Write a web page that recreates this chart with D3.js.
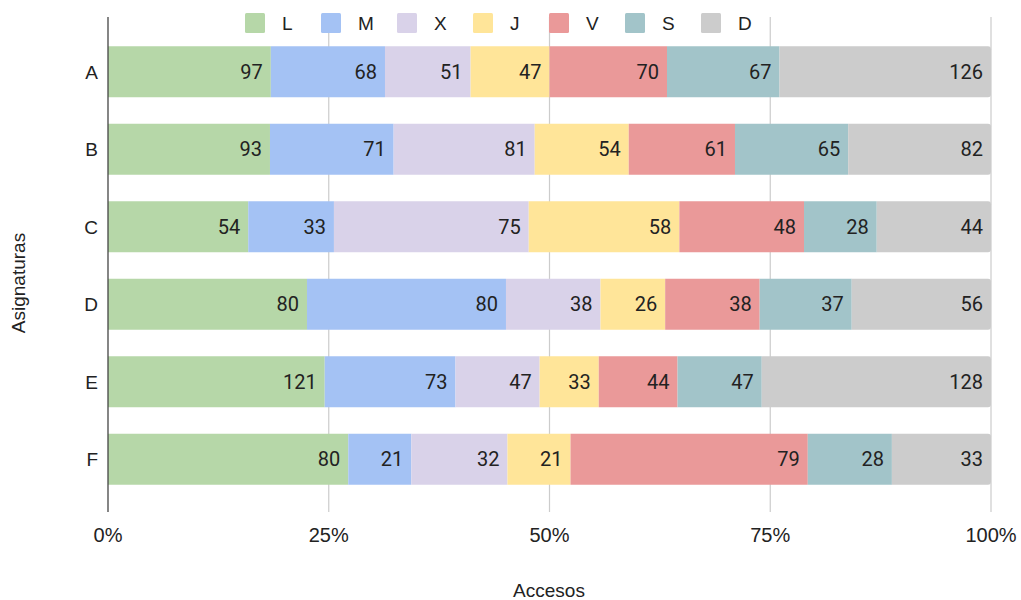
<!DOCTYPE html>
<html>
<head>
<meta charset="utf-8">
<script src="https://cdn.jsdelivr.net/npm/d3@7"></script>
<style>
  body { margin: 0; background: #fff; }
  svg text { font-family: "Liberation Sans", Arial, sans-serif; fill: #222; }
  svg text.val { font-family: Roboto, "Noto Sans", sans-serif; }
</style>
</head>
<body>
<div id="chart"></div>
<script>
// data
const categories = ["A", "B", "C", "D", "E", "F"];
const seriesNames = ["L", "M", "X", "J", "V", "S", "D"];
const colors = ["#b6d7a8", "#a4c2f4", "#d9d2e9", "#ffe599", "#ea9999", "#a2c4c9", "#cccccc"];
const values = {
  L: [97, 93, 54, 80, 121, 80],
  M: [68, 71, 33, 80, 73, 21],
  X: [51, 81, 75, 38, 47, 32],
  J: [47, 54, 58, 26, 33, 21],
  V: [70, 61, 48, 38, 44, 79],
  S: [67, 65, 28, 37, 47, 28],
  D: [126, 82, 44, 56, 128, 33]
};
const tickValues = [0, 0.25, 0.5, 0.75, 1];

const W = 1021, H = 600;
const plot = {left: 108, right: 991, top: 33, bottom: 498};

const svg = d3.select("#chart").append("svg")
    .attr("width", W).attr("height", H);

const rows = categories.map((c, i) => {
  const r = {cat: c};
  seriesNames.forEach(s => r[s] = values[s][i]);
  return r;
});

const stack = d3.stack().keys(seriesNames).offset(d3.stackOffsetExpand);
const layers = stack(rows);

const x = d3.scaleLinear().domain([0, 1]).range([plot.left, plot.right]);
const y = d3.scaleBand().domain(categories).range([plot.top, plot.bottom]).paddingInner(0.34).paddingOuter(0.17);
const color = d3.scaleOrdinal().domain(seriesNames).range(colors);

// gridlines
svg.append("g")
  .selectAll("line")
  .data(tickValues.slice(1))
  .join("line")
    .attr("x1", d => x(d)).attr("x2", d => x(d))
    .attr("y1", 17).attr("y2", 512)
    .attr("stroke", "#cccccc").attr("stroke-width", 1.2);

// bars
const layer = svg.append("g").selectAll("g")
  .data(layers)
  .join("g")
    .attr("fill", d => color(d.key));

layer.selectAll("path")
  .data(d => d.map(p => ({p, key: d.key})))
  .join("path")
    .attr("d", d => {
      const x0 = x(d.p[0]), x1 = x(d.p[1]);
      const y0 = y(d.p.data.cat), h = y.bandwidth();
      if (d.key === "D") {
        const r = 3;
        return `M${x0},${y0}H${x1 - r}Q${x1},${y0} ${x1},${y0 + r}V${y0 + h - r}Q${x1},${y0 + h} ${x1 - r},${y0 + h}H${x0}Z`;
      }
      return `M${x0},${y0}H${x1}V${y0 + h}H${x0}Z`;
    });

// value labels
layer.selectAll("text")
  .data(d => d.map(p => ({p, key: d.key})))
  .join("text")
    .attr("class", "val")
    .attr("x", d => x(d.p[1]) - 8)
    .attr("y", d => y(d.p.data.cat) + y.bandwidth() / 2)
    .attr("dy", "0.36em")
    .attr("text-anchor", "end")
    .style("font-size", "20px")
    .style("fill", "#222")
    .text(d => d.p.data[d.key]);

// y axis line
svg.append("line")
  .attr("x1", plot.left).attr("x2", plot.left)
  .attr("y1", 17).attr("y2", 512)
  .attr("stroke", "#444").attr("stroke-width", 1.3);

// category labels
svg.append("g").selectAll("text")
  .data(categories)
  .join("text")
    .attr("x", plot.left - 10)
    .attr("y", d => y(d) + y.bandwidth() / 2)
    .attr("dy", "0.36em")
    .attr("text-anchor", "end")
    .style("font-size", "19px")
    .text(d => d);

// x tick labels
svg.append("g").selectAll("text")
  .data(tickValues)
  .join("text")
    .attr("x", d => x(d))
    .attr("y", 535)
    .attr("dy", "0.36em")
    .attr("text-anchor", "middle")
    .style("font-size", "20px")
    .text(d3.format(".0%"));

// axis titles
svg.append("text")
  .attr("x", 549).attr("y", 590)
  .attr("dy", "0.36em")
  .attr("text-anchor", "middle")
  .style("font-size", "19px")
  .text("Accesos");

svg.append("text")
  .attr("transform", "translate(18,283) rotate(-90)")
  .attr("dy", "0.36em")
  .attr("text-anchor", "middle")
  .style("font-size", "19px")
  .text("Asignaturas");

// legend
const legend = svg.append("g").selectAll("g")
  .data(seriesNames)
  .join("g")
    .attr("transform", (d, i) => `translate(${245 + i * 76},0)`);

legend.append("rect")
  .attr("y", 13).attr("width", 20).attr("height", 20).attr("rx", 1.5)
  .attr("fill", d => color(d));

legend.append("text")
  .attr("x", 37).attr("y", 23)
  .attr("dy", "0.36em")
  .style("font-size", "19px")
  .text(d => d);
</script>
</body>
</html>
